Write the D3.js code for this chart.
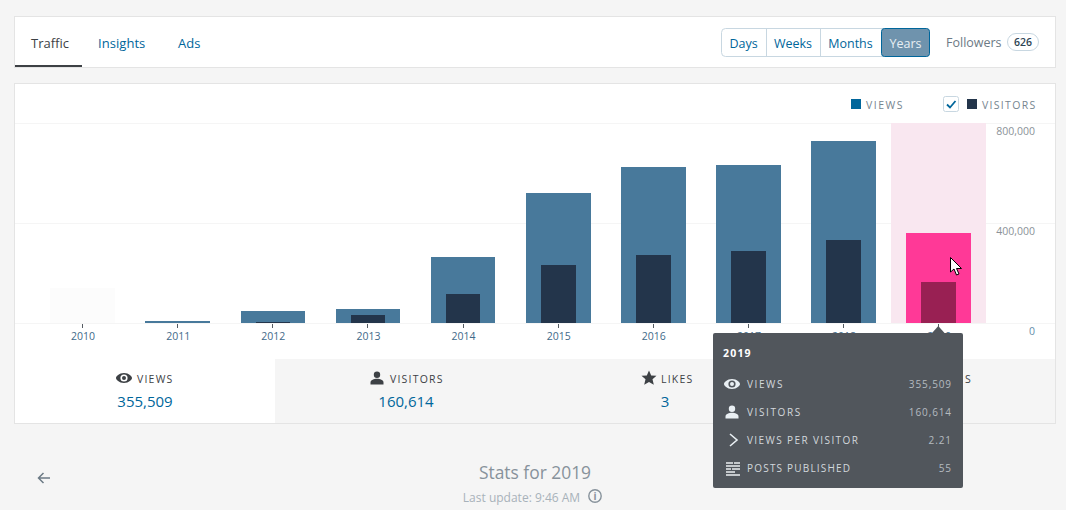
<!DOCTYPE html>
<html><head><meta charset="utf-8">
<script src="https://cdn.jsdelivr.net/npm/d3@7/dist/d3.min.js"></script>
<style>
html,body{margin:0;padding:0;background:#f5f5f5;overflow:hidden}
svg{display:block}
text{font-family:"Open Sans",sans-serif}
</style></head><body><svg id="c" width="1066" height="510"></svg>
<script>
const years=["2010","2011","2012","2013","2014","2015","2016","2017","2018","2019"];
const viewsData=[138000,6000,46000,54000,262000,517000,620000,628000,724000,355509];
const visitorsData=[0,0,2000,30000,114000,229000,269000,285000,329000,160614];
const yTicks=[0,400000,800000];
const navTabs=["Traffic","Insights","Ads"];
const periods=["Days","Weeks","Months","Years"];
const selectedYear="2019";
const tooltipRows=[["VIEWS","355,509"],["VISITORS","160,614"],["VIEWS PER VISITOR","2.21"],["POSTS PUBLISHED","55"]];
const summary=[["VIEWS","355,509"],["VISITORS","160,614"],["LIKES","3"]];

const svg=d3.select("#c");
const BLUE="#00669b",BORDER="#e4e4e4";
const rect=(g,x,y,w,h,fill,extra={})=>{const r=g.append("rect").attr("x",x).attr("y",y).attr("width",w).attr("height",h).attr("fill",fill);for(const k in extra)r.attr(k,extra[k]);return r;};
const txt=(g,x,y,s,size,fill,anchor="start",ls=0,weight=400)=>g.append("text").attr("x",x).attr("y",y).attr("font-size",size).attr("fill",fill).attr("text-anchor",anchor).attr("letter-spacing",ls).attr("font-weight",weight).text(s);
const eye="M0 -5C-5 -5 -8 -1.5 -8 0C-8 1.5 -5 5 0 5C5 5 8 1.5 8 0C8 -1.5 5 -5 0 -5ZM0 3.6A3.6 3.6 0 1 1 0 -3.6A3.6 3.6 0 1 1 0 3.6ZM0 -2A2 2 0 1 0 0 2A2 2 0 1 0 0 -2Z";
const person="M0 -6.5A3.2 3.2 0 1 1 0 -0.1A3.2 3.2 0 1 1 0 -6.5ZM-6.5 6.5V4.5C-6.5 2 -3 0.8 0 0.8C3 0.8 6.5 2 6.5 4.5V6.5Z";
const star="M0 -7.5L2.2 -2.5L7.5 -2.2L3.5 1.3L4.8 6.8L0 3.9L-4.8 6.8L-3.5 1.3L-7.5 -2.2L-2.2 -2.5Z";

// nav card
const nav=svg.append("g");
rect(nav,14.5,16.5,1041,51,"#fff",{stroke:BORDER});
const tabX=[31,98,178];
navTabs.forEach((t,i)=>txt(nav,tabX[i],48,t,13,i===0?"#3d4145":BLUE,"start",i===1?.05:0));
rect(nav,15,65,67,2,"#3d4145");
// period buttons
const btnEdges=[721,766,820,881,930];
const btn=svg.append("g");
rect(btn,721.5,28.5,208,28,"#fff",{stroke:"#c8d7e1",rx:4});
periods.forEach((p,i)=>{
  const x0=btnEdges[i],x1=btnEdges[i+1],sel=i===3;
  if(sel)rect(btn,x0+.5,28.5,x1-x0-1,28,"#6f93ad",{stroke:BLUE,rx:3});
  else if(i>0)rect(btn,x0,29,1,27,"#c8d7e1");
  txt(btn,(x0+x1)/2,48,p,12.5,sel?"#e8eff4":BLUE,"middle");
});
txt(svg,946,47,"Followers",12.5,"#6c7a85");
rect(svg,1007.5,33.5,31,17,"#fff",{stroke:"#c8d7e1",rx:8.5});
txt(svg,1023,46,"626",10.5,"#2e4453","middle",0,600);

// chart card
const card=svg.append("g");
rect(card,14.5,83.5,1041,340,"#fff",{stroke:BORDER});

const x=d3.scaleBand().domain(years).range([35,986.3]);
const y=d3.scaleLinear().domain([0,800000]).range([323,122.5]);
const cx=d=>x(d)+x.bandwidth()/2;
const barTop=v=>Math.floor(y(v));
const plot=svg.append("g");
// grid
plot.selectAll("line.g").data(yTicks).join("line").attr("x1",15).attr("x2",1055)
  .attr("y1",d=>Math.ceil(y(d))+.5).attr("y2",d=>Math.ceil(y(d))+.5).attr("stroke","#f5f5f5");
// highlight column
rect(plot,x(selectedYear),Math.ceil(y(800000)),x.bandwidth(),Math.ceil(y(0))-Math.ceil(y(800000)),"#f9e7f0",{"shape-rendering":"crispEdges"});
const VW=64.6,VS=34.6;
plot.selectAll("rect.v").data(years).join("rect").attr("class","v").attr("shape-rendering","crispEdges")
  .attr("x",d=>cx(d)-VW/2).attr("width",VW)
  .attr("y",(d,i)=>barTop(viewsData[i])).attr("height",(d,i)=>y(0)-barTop(viewsData[i]))
  .attr("fill",d=>d===selectedYear?"#ff3997":d==="2010"?"#fcfcfc":"#48799b");
plot.selectAll("rect.s").data(years).join("rect").attr("class","s").attr("shape-rendering","crispEdges")
  .attr("x",d=>cx(d)-VS/2).attr("width",VS)
  .attr("y",(d,i)=>barTop(visitorsData[i])).attr("height",(d,i)=>y(0)-barTop(visitorsData[i]))
  .attr("fill",d=>d===selectedYear?"#992053":"#23354b");
// x axis
const xa=plot.append("g").attr("transform","translate(0,324)").call(d3.axisBottom(x).tickSize(4).tickPadding(5).offset(0));
xa.select(".domain").remove();
xa.selectAll("line").attr("stroke","#545b62").attr("shape-rendering","crispEdges");
xa.selectAll("text").attr("font-family",'"Open Sans",sans-serif').attr("font-size",10.5).attr("fill","#3f6a8a").attr("dx",.5);
// y axis
const ya=plot.append("g").attr("transform","translate(1035,0)").call(d3.axisLeft(y).tickValues(yTicks).tickSize(0).tickPadding(0).tickFormat(d3.format(",")));
ya.select(".domain").remove();
ya.selectAll("text").attr("font-family",'"Open Sans",sans-serif').attr("font-size",10.5).attr("dy",".32em").attr("transform","translate(0,8.5)")
  .attr("fill",d=>d===0?"#668eaa":"#8b9298");

// legend
const lg=svg.append("g");
rect(lg,851,99,10,10,BLUE);
txt(lg,866,109,"VIEWS",10.5,"#76858f",'start',1.5);
rect(lg,943.5,96.5,15,15,"#fff",{stroke:"#c8d7e1",rx:2});
lg.append("path").attr("d","M947 104.5L950 107.5L955.5 101").attr("fill","none").attr("stroke",BLUE).attr("stroke-width",1.8);
rect(lg,967,99,10,10,"#23354b");
txt(lg,982,109,"VISITORS",10.5,"#76858f",'start',1.3);

// summary tabs
const st=svg.append("g");
rect(st,275,359,780,64,"#f5f5f5");
rect(st,275,423,780,1,BORDER);
rect(st,1055,359,1,65,BORDER);
const sumIcon=[eye,person,star],iconX=[124,377,649],labX=[137,390,661],valX=[145,406,665];
summary.forEach((s,i)=>{
  st.append("path").attr("d",sumIcon[i]).attr("fill-rule","evenodd").attr("transform",`translate(${iconX[i]},378)`).attr("fill","#3d4145");
  txt(st,labX[i],383,s[0],10.5,"#3d4145","start",1.2);
  txt(st,valX[i],407,s[1],15,BLUE,"middle");
});
txt(st,965,383,"S",10.5,"#3d4145","start",1.2);

// footer
const ft=svg.append("g");
ft.append("path").attr("d","M50 478H39M43.5 473L38.5 478L43.5 483").attr("fill","none").attr("stroke","#6c7a85").attr("stroke-width",1.5);
txt(ft,535,479,"Stats for 2019",17.4,"#87929b","middle");
txt(ft,521.5,502,"Last update: 9:46 AM",12,"#a8b2ba","middle");
ft.append("circle").attr("cx",595).attr("cy",496).attr("r",6.2).attr("fill","none").attr("stroke","#87929b").attr("stroke-width",1.4);
txt(ft,595,500,"i",10,"#87929b","middle",0,700);

// tooltip
const tt=svg.append("g");
tt.append("path").attr("d","M932 333L938.3 326L944.5 333Z").attr("fill","#51565c");
rect(tt,713,333,250,155,"#51565c",{rx:2});
txt(tt,723,357,selectedYear,10.5,"#fff","start",1.2,700);
const rowY=[384,412,440,468];
const rowLs=[1.6,1.6,1.4,1.2];
tooltipRows.forEach((r,i)=>{
  const yy=rowY[i];
  txt(tt,747,yy+4,r[0],10,"#d3d8dc","start",rowLs[i]);
  txt(tt,952,yy+4,r[1],10,"#b5bbc0","end",.9);
});
tt.append("path").attr("d",eye).attr("fill-rule","evenodd").attr("fill","#e9eff3").attr("transform","translate(732,384)");
tt.append("path").attr("d",person).attr("fill","#e9eff3").attr("transform","translate(732,412)");
tt.append("path").attr("d","M730 434L737 440L730 446").attr("fill","none").attr("stroke","#e9eff3").attr("stroke-width",1.6);
[[726,462,7],[734,462,6],[726,465,14],[726,468,5],[732,468,8],[726,471,9],[726,474,14]].forEach(a=>rect(tt,a[0],a[1],a[2],2,"#c4c8cb"));

// cursor
svg.append("path").attr("d","M950.5 257.5V272L954 269L956.5 275L959 274L956.5 268.5L961.5 268.5Z").attr("fill","#fff").attr("stroke","#000").attr("stroke-width",1);
</script></body></html>
